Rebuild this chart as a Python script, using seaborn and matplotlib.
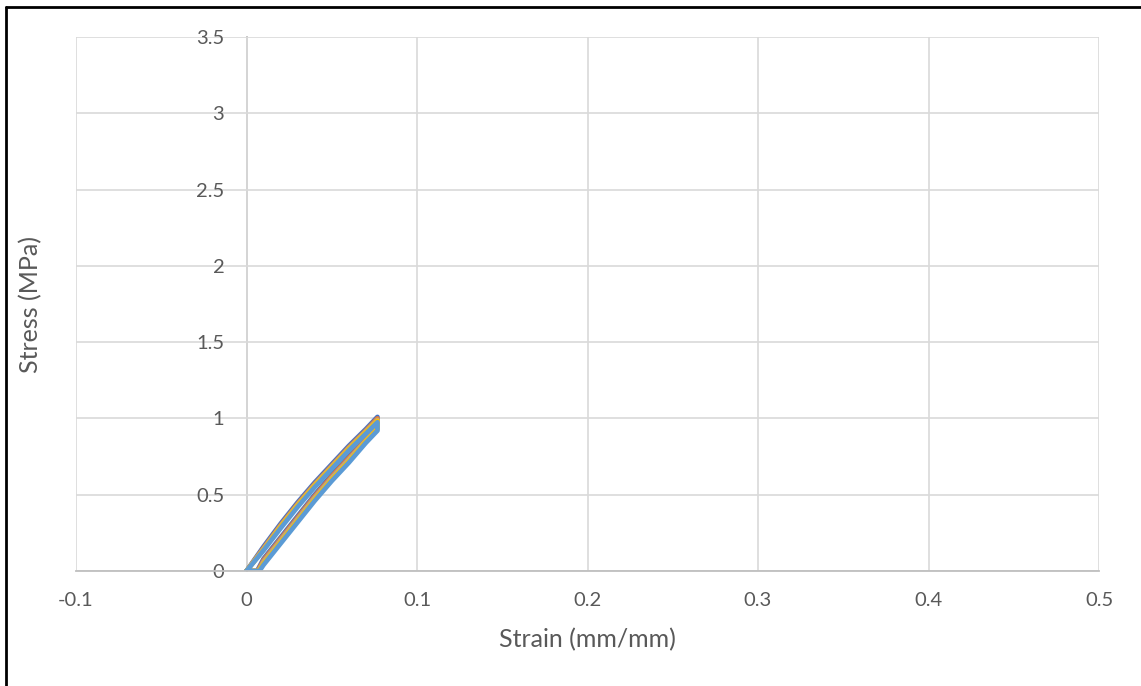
import matplotlib.pyplot as plt
import matplotlib.lines as mlines
import seaborn as sns
import numpy as np
import pandas as pd

# Donnees (cycles charge / maintien / decharge)
strain_c1 = [0.0, 0.01, 0.02, 0.03, 0.04, 0.05, 0.06, 0.07, 0.0768, 0.0768, 0.07, 0.06, 0.05, 0.04, 0.03, 0.02, 0.01, 0.0062, 0.0]
stress_c1 = [0.0, 0.16, 0.31, 0.45, 0.58, 0.70, 0.82, 0.93, 1.01, 0.95, 0.87, 0.75, 0.63, 0.50, 0.36, 0.22, 0.08, 0.0, 0.0]

strain_c2 = [0.0, 0.01, 0.02, 0.03, 0.04, 0.05, 0.06, 0.07, 0.0768, 0.0768, 0.07, 0.06, 0.05, 0.04, 0.03, 0.02, 0.01, 0.0066, 0.0]
stress_c2 = [0.0, 0.15, 0.30, 0.44, 0.57, 0.69, 0.81, 0.92, 1.0, 0.94, 0.86, 0.74, 0.62, 0.49, 0.35, 0.21, 0.07, 0.0, 0.0]

strain_c3 = [0.0, 0.01, 0.02, 0.03, 0.04, 0.05, 0.06, 0.07, 0.0768, 0.0768, 0.07, 0.06, 0.05, 0.04, 0.03, 0.02, 0.01, 0.007, 0.0]
stress_c3 = [0.0, 0.145, 0.295, 0.435, 0.565, 0.685, 0.805, 0.915, 0.99, 0.935, 0.855, 0.73, 0.61, 0.48, 0.34, 0.20, 0.06, 0.0, 0.0]

strain_c4 = [0.0, 0.01, 0.02, 0.03, 0.04, 0.05, 0.06, 0.07, 0.0768, 0.0768, 0.07, 0.06, 0.05, 0.04, 0.03, 0.02, 0.01, 0.0072, 0.0]
stress_c4 = [0.0, 0.14, 0.29, 0.43, 0.56, 0.68, 0.80, 0.91, 0.985, 0.93, 0.85, 0.72, 0.60, 0.47, 0.33, 0.19, 0.05, 0.0, 0.0]

strain_c5 = [0.0, 0.01, 0.02, 0.03, 0.04, 0.05, 0.06, 0.07, 0.0768, 0.0768, 0.07, 0.06, 0.05, 0.04, 0.03, 0.02, 0.01, 0.0076, 0.0]
stress_c5 = [0.0, 0.135, 0.28, 0.42, 0.55, 0.67, 0.79, 0.90, 0.975, 0.92, 0.84, 0.71, 0.59, 0.46, 0.32, 0.18, 0.04, 0.0, 0.0]

x_ticks = [-0.1, 0, 0.1, 0.2, 0.3, 0.4, 0.5]
x_labels = ['-0.1', '0', '0.1', '0.2', '0.3', '0.4', '0.5']
y_ticks = [0, 0.5, 1, 1.5, 2, 2.5, 3, 3.5]
y_labels = ['0', '0.5', '1', '1.5', '2', '2.5', '3', '3.5']

# Construire le tableau long pour seaborn
cycles = [strain_c1, strain_c2, strain_c3, strain_c4, strain_c5]
stresses = [stress_c1, stress_c2, stress_c3, stress_c4, stress_c5]
rows = []
for i, (s, t) in enumerate(zip(cycles, stresses)):
    for k, (a, b) in enumerate(zip(s, t)):
        rows.append({'cycle': f'C{i+1}', 'order': k, 'strain': a, 'stress': b})
df = pd.DataFrame(rows)

palette = {'C1': '#4472C4', 'C2': '#ED7D31', 'C3': '#A5A5A5', 'C4': '#FFC000', 'C5': '#5B9BD5'}

sns.set_style('white')
plt.rcParams['font.family'] = ['Lato', 'DejaVu Sans']

fig = plt.figure(figsize=(11.41, 6.86), dpi=100)
ax = fig.add_axes([76/1141, 1-571/686, (1099-76)/1141, (571-37)/686])

sns.lineplot(data=df, x='strain', y='stress', hue='cycle', palette=palette,
             sort=False, estimator=None, linewidth=3.4, legend=False, ax=ax,
             solid_joinstyle='round', solid_capstyle='round')

ax.set_xlim(-0.1, 0.5)
ax.set_ylim(0, 3.5)
ax.set_xticks(x_ticks)
ax.set_xticklabels(x_labels)
ax.set_yticks(y_ticks)
ax.set_yticklabels(y_labels)
ax.grid(True, color='#D9D9D9', linewidth=1.2)
ax.set_axisbelow(True)

for side in ['top', 'right']:
    ax.spines[side].set_visible(False)
ax.spines['left'].set_position(('data', 0))
ax.spines['left'].set_color('#BFBFBF')
ax.spines['left'].set_linewidth(1.3)
ax.spines['bottom'].set_color('#BFBFBF')
ax.spines['bottom'].set_linewidth(1.3)
ax.spines['left'].set_zorder(0.5)

ax.tick_params(axis='both', length=0, labelsize=14.5, colors='#595959')
ax.tick_params(axis='y', pad=16)
ax.tick_params(axis='x', pad=15)

fig.text(587/1141, 1-640/686, 'Strain (mm/mm)', ha='center', va='center', fontsize=18, color='#595959')
fig.text(31/1141, 1-304/686, 'Stress (MPa)', ha='center', va='center', rotation=90, fontsize=18, color='#595959')
ax.set_xlabel('')
ax.set_ylabel('')

# Bordure noire a gauche et en haut
fig.add_artist(mlines.Line2D([6/1141, 6/1141], [0, 1-7/686], color='black', linewidth=2, transform=fig.transFigure))
fig.add_artist(mlines.Line2D([6/1141, 1], [1-7/686, 1-7/686], color='black', linewidth=2, transform=fig.transFigure))

fig.savefig('out.png', dpi=100, facecolor='white')
